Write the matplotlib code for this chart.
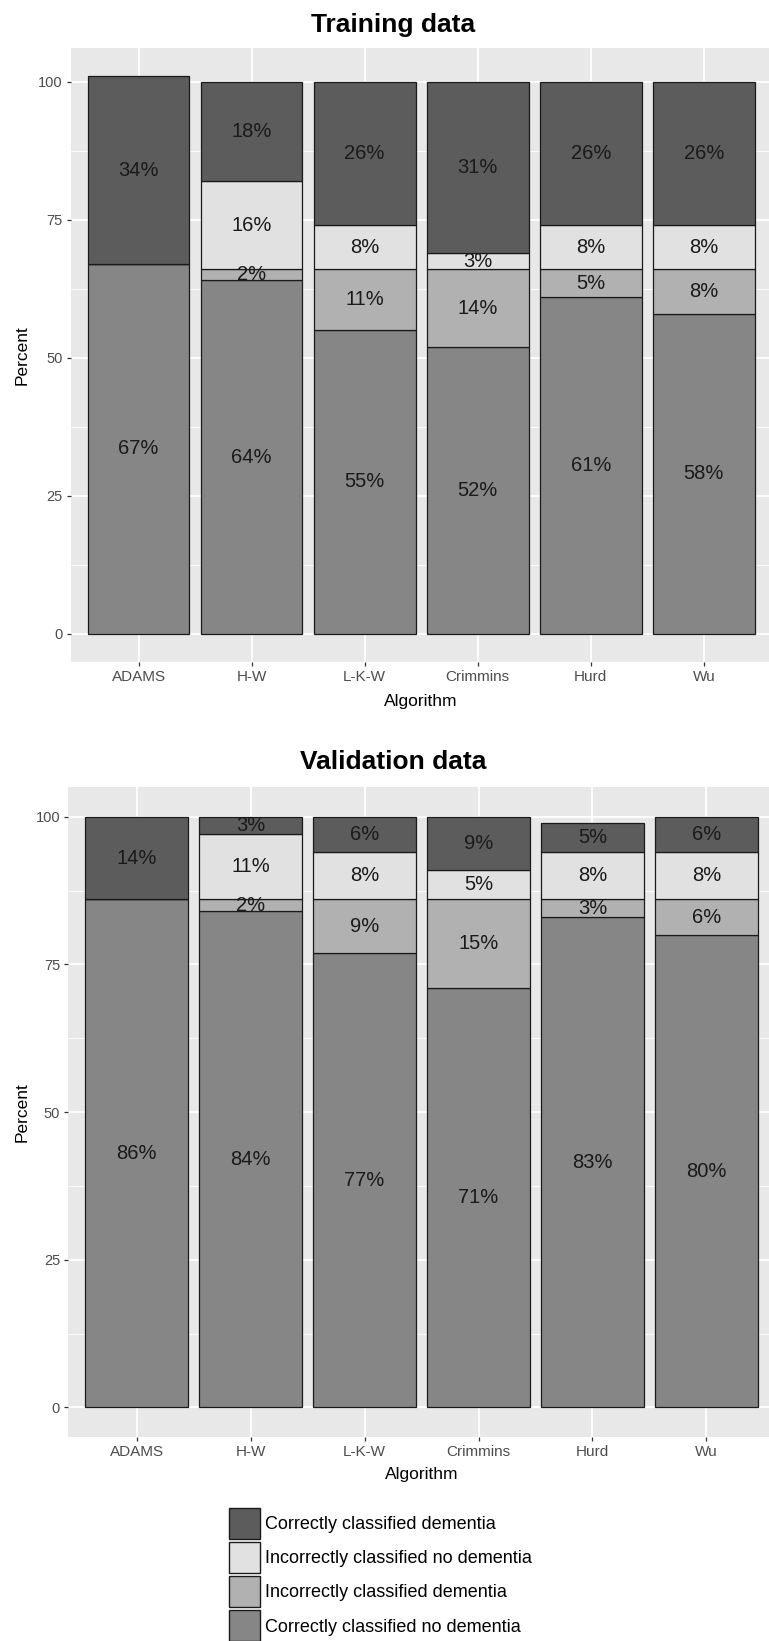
import numpy as np
import matplotlib.pyplot as plt
from matplotlib.patches import Patch

plt.rcParams['font.family'] = ['Liberation Sans', 'DejaVu Sans']

algorithms = ['ADAMS', 'H-W', 'L-K-W', 'Crimmins', 'Hurd', 'Wu']
categories = ['Correctly classified no dementia', 'Incorrectly classified dementia',
              'Incorrectly classified no dementia', 'Correctly classified dementia']

# percent per algorithm, stacked bottom to top
train_correct_no = [67, 64, 55, 52, 61, 58]
train_wrong_dem = [0, 2, 11, 14, 5, 8]
train_wrong_no = [0, 16, 8, 3, 8, 8]
train_correct_dem = [34, 18, 26, 31, 26, 26]

valid_correct_no = [86, 84, 77, 71, 83, 80]
valid_wrong_dem = [0, 2, 9, 15, 3, 6]
valid_wrong_no = [0, 11, 8, 5, 8, 8]
valid_correct_dem = [14, 3, 6, 9, 5, 6]

fills = ['#868686', '#b1b1b1', '#e1e1e1', '#5c5c5c']


def draw_panel(ax, series):
    x = np.arange(len(algorithms))
    bottom = np.zeros(len(algorithms))
    for vals, col in zip(series, fills):
        vals = np.array(vals, dtype=float)
        ax.bar(x, vals, 0.9, bottom=bottom, color=col, edgecolor='#1a1a1a',
               linewidth=0.9, zorder=3)
        for xi, b, v in zip(x, bottom, vals):
            if v > 0:
                ax.text(xi, b + v / 2, f'{int(v)}%', ha='center', va='center',
                        fontsize=14.5, color='#1a1a1a', zorder=4)
        bottom += vals
    top = bottom.max()
    ax.set_xlim(-0.6, len(algorithms) - 0.4)
    ax.set_ylim(-0.05 * top, top * 1.05)
    ax.set_xticks(x)
    ax.set_xticklabels(algorithms)
    ax.set_yticks([0, 25, 50, 75, 100])
    ax.set_yticks([12.5, 37.5, 62.5, 87.5], minor=True)
    ax.set_facecolor('#e8e8e8')
    for s in ax.spines.values():
        s.set_visible(False)
    ax.grid(which='major', color='white', linewidth=1.3, zorder=0)
    ax.grid(which='minor', axis='y', color='white', linewidth=0.6, zorder=0)
    ax.set_axisbelow(True)
    ax.tick_params(which='major', length=3, width=0.9, color='#333333',
                   labelcolor='#4d4d4d', pad=3)
    ax.tick_params(which='minor', length=0)
    ax.tick_params(axis='x', labelsize=11)
    ax.tick_params(axis='y', labelsize=10.5)
    ax.set_xlabel('Algorithm', fontsize=12.5, va='center')
    ax.set_ylabel('Percent', fontsize=12.5, va='center')


fig = plt.figure(figsize=(7.69, 16.41), dpi=100)
H = 1641.0
W = 769.0

ax1 = fig.add_axes([70.7 / W, 1 - 661.7 / H, 701.0 / W, 613.4 / H])
draw_panel(ax1, [train_correct_no, train_wrong_dem, train_wrong_no, train_correct_dem])
ax1.xaxis.set_label_coords(0.5, -(701.7 - 661.7) / 613.4)
ax1.yaxis.set_label_coords((22 - 70.7) / 701.0, 0.5)

ax2 = fig.add_axes([68.4 / W, 1 - 1437.0 / H, 706.3 / W, 649.8 / H])
draw_panel(ax2, [valid_correct_no, valid_wrong_dem, valid_wrong_no, valid_correct_dem])
ax2.xaxis.set_label_coords(0.5, -(1475 - 1437.0) / 649.8)
ax2.yaxis.set_label_coords((22 - 68.4) / 706.3, 0.5)

fig.text(393 / W, 1 - 25 / H, 'Training data', ha='center', va='center',
         fontsize=19, fontweight='bold')
fig.text(393 / W, 1 - 761.7 / H, 'Validation data', ha='center', va='center',
         fontsize=19, fontweight='bold')

# legend, top entry is the top stack segment
handles = [Patch(facecolor=c, edgecolor='#1a1a1a', linewidth=1.0) for c in fills[::-1]]
fig.legend(handles, categories[::-1], loc='upper left',
           bbox_to_anchor=(229 / W, 1 - 1508 / H), frameon=False,
           fontsize=13, handlelength=1.72, handleheight=2.27,
           labelspacing=0.17, handletextpad=0.26, borderpad=0, borderaxespad=0)

fig.savefig('out.png', dpi=100)
